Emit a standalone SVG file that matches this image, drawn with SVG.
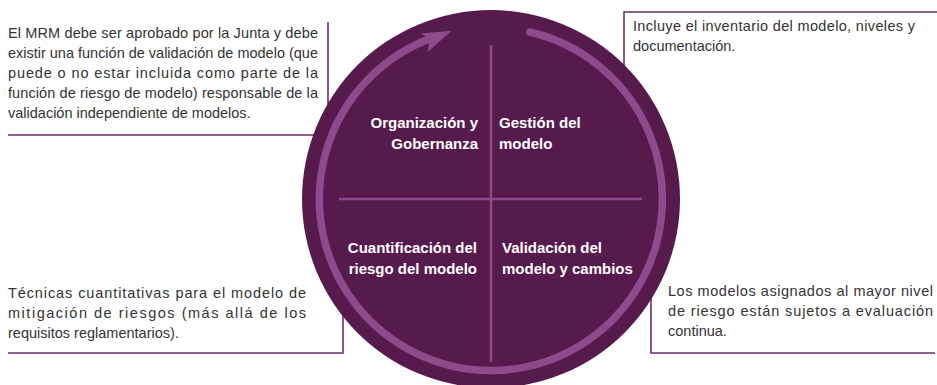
<svg xmlns="http://www.w3.org/2000/svg" width="937" height="385" viewBox="0 0 937 385">
  <style>
    .body { font-family: "Liberation Sans", Arial, sans-serif; font-size: 14.5px; fill: #333333; }
    .lbl { font-family: "Liberation Sans", Arial, sans-serif; font-size: 15px; font-weight: bold; fill: #ffffff; }
    .callout { fill: none; stroke: #6e2d66; stroke-width: 1.6; }
    .ring { fill: none; stroke: #8e4b8b; stroke-width: 7.5; }
    .divider { fill: none; stroke: #8e4b8b; stroke-width: 2.5; }
  </style>
  <defs>
    <marker id="arrowhead" markerUnits="userSpaceOnUse" viewBox="-15 -15 40 30" markerWidth="40" markerHeight="30" refX="0" refY="0" orient="auto" overflow="visible">
      <path d="M20,0 L-10,12 L-3,0 L-10,-8 Z" fill="#8e4b8b"/>
    </marker>
  </defs>
  <rect width="937" height="385" fill="#ffffff"/>

  <g id="connectors">
    <path class="callout" d="M328,22 V135 H8"/>
    <path class="callout" d="M624,110 V12 H937"/>
    <path class="callout" d="M343,250 V353 H8"/>
    <path class="callout" d="M651,220 V353 H935"/>
  </g>

  <g id="cycle">
    <circle cx="491" cy="199" r="189" fill="#571a4d"/>
    <path class="ring" stroke-linecap="round" d="M529.9,32 A171.5,171.5 0 1 1 432.9,37.6" marker-end="url(#arrowhead)"/>
    <line class="divider" x1="491" y1="45" x2="491" y2="362"/>
    <line class="divider" x1="339" y1="199" x2="642" y2="199"/>
  </g>

  <g id="q-organizacion">
    <text class="lbl" text-anchor="end" x="478" y="128">Organización y</text>
    <text class="lbl" text-anchor="end" x="478" y="149">Gobernanza</text>
  </g>
  <g id="q-gestion">
    <text class="lbl" x="499" y="128">Gestión del</text>
    <text class="lbl" x="499" y="149">modelo</text>
  </g>
  <g id="q-cuantificacion">
    <text class="lbl" text-anchor="end" x="477" y="253">Cuantificación del</text>
    <text class="lbl" text-anchor="end" x="477" y="274">riesgo del modelo</text>
  </g>
  <g id="q-validacion">
    <text class="lbl" x="502" y="253">Validación del</text>
    <text class="lbl" x="502" y="274">modelo y cambios</text>
  </g>

  <g id="note-top-left">
    <text class="body" x="8" y="38" textLength="310" lengthAdjust="spacing">El MRM debe ser aprobado por la Junta y debe</text>
    <text class="body" x="8" y="58" textLength="310" lengthAdjust="spacing">existir una función de validación de modelo (que</text>
    <text class="body" x="8" y="78" textLength="310" lengthAdjust="spacing">puede o no estar incluida como parte de la</text>
    <text class="body" x="8" y="98" textLength="310" lengthAdjust="spacing">función de riesgo de modelo) responsable de la</text>
    <text class="body" x="8" y="118">validación independiente de modelos.</text>
  </g>
  <g id="note-top-right">
    <text class="body" x="633" y="31" textLength="282" lengthAdjust="spacing">Incluye el inventario del modelo, niveles y</text>
    <text class="body" x="633" y="51">documentación.</text>
  </g>
  <g id="note-bottom-left">
    <text class="body" x="8" y="298" textLength="298" lengthAdjust="spacing">Técnicas cuantitativas para el modelo de</text>
    <text class="body" x="8" y="318" textLength="298" lengthAdjust="spacing">mitigación de riesgos (más allá de los</text>
    <text class="body" x="8" y="338">requisitos reglamentarios).</text>
  </g>
  <g id="note-bottom-right">
    <text class="body" x="668" y="296" textLength="265" lengthAdjust="spacing">Los modelos asignados al mayor nivel</text>
    <text class="body" x="668" y="316" textLength="265" lengthAdjust="spacing">de riesgo están sujetos a evaluación</text>
    <text class="body" x="668" y="336">continua.</text>
  </g>
</svg>
